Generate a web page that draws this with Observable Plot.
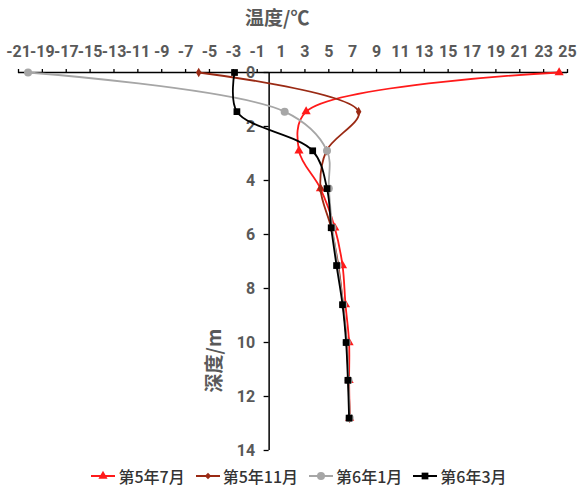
<!DOCTYPE html>
<html><head><meta charset="utf-8">
<script src="https://cdn.jsdelivr.net/npm/d3@7"></script>
<script src="https://cdn.jsdelivr.net/npm/@observablehq/plot@0.6"></script>
<style>
body{margin:0;background:#fff;}
#legend{display:flex;justify-content:center;align-items:center;gap:11px;height:28px;padding-left:20px;box-sizing:border-box;width:578px;
  font-family:"Liberation Sans Narrow","Noto Sans CJK SC",sans-serif;font-size:16px;font-weight:500;color:#333;}
#legend .item{display:flex;align-items:center;gap:3px;white-space:nowrap;}
</style></head><body><div id="chart"></div><div id="legend"></div>
<script>
const seriesNames = ["第5年7月","第5年11月","第6年1月","第6年3月"];
const seriesColors = ["#ff1a1a","#9a2a14","#a6a6a6","#000000"];
const seriesSymbols = ["triangle","diamond","circle","square"];
const depths = [0, 1.45, 2.9, 4.3, 5.75, 7.15, 8.6, 10, 11.4, 12.8];
const temp5y7m  = [24.3, 3.1, 2.5, 4.3, 5.5, 6.15, 6.4, 6.7, 6.7, 6.75];
const temp5y11m = [-5.9, 7.5, 4.8, 4.3, 5.2, 5.8, 6.2, 6.5, 6.65, 6.75];
const temp6y1m  = [-20.2, 1.3, 4.85, 5.0, 5.3, 5.75, 6.2, 6.5, 6.65, 6.75];
const temp6y3m  = [-2.9, -2.7, 3.65, 4.85, 5.2, 5.65, 6.15, 6.45, 6.6, 6.7];
const xTicks = d3.range(-21, 26, 2);
const yTicks = d3.range(0, 15, 2);
const xTitle = "温度/℃";
const yTitle = "深度/m";

const allTemps = [temp5y7m, temp5y11m, temp6y1m, temp6y3m];
const rows = seriesNames.map((s, i) => allTemps[i].map((t, j) => ({s, t, d: depths[j]})));
const symR = [3.4, 2.9, 4, 3.8];

const tickFont = '"Liberation Sans Narrow",Roboto,sans-serif';
const cjkFont = '"Noto Sans CJK SC",sans-serif';
const marks = [
  Plot.ruleY([0], {stroke: "#000", strokeWidth: 1.5}),
  Plot.ruleX([0], {y1: 0, y2: 14, stroke: "#000", strokeWidth: 1.5}),
  Plot.axisX({anchor: "top", ticks: xTicks, tickSize: 4, tickFormat: () => "", label: null, stroke: "#000", strokeWidth: 1.3}),
  Plot.axisX({anchor: "top", ticks: xTicks, tickSize: 0, tickPadding: 16, label: null, fill: "#595959", fontSize: 16, fontWeight: "bold", fontFamily: tickFont, tickFormat: d => String(d)}),
  Plot.ruleY(yTicks, {y: d => d, x1: -0.42, x2: 0, stroke: "#000", strokeWidth: 1.3}),
  Plot.text(yTicks, {x: 0, y: d => d, text: d => String(d), dx: -14, textAnchor: "end", fontSize: 16, fontWeight: "bold", fill: "#595959", fontFamily: tickFont}),
  Plot.text([yTitle], {x: 0, y: 10.67, dx: -54, rotate: -90, text: d => d, fontSize: 19, fontWeight: "bold", fill: "#595959", fontFamily: cjkFont}),
  Plot.text([xTitle], {x: 0.68, y: 0, dy: -54, text: d => d, fontSize: 19, fontWeight: "bold", fill: "#595959", fontFamily: cjkFont})
];
rows.forEach((data, i) => {
  marks.push(Plot.line(data, {x: "t", y: "d", stroke: seriesColors[i], strokeWidth: 1.8, curve: "catmull-rom"}));
  marks.push(Plot.dot(data, {x: "t", y: "d", fill: seriesColors[i], stroke: "none", symbol: seriesSymbols[i], r: symR[i]}));
});

const chart = Plot.plot({
  width: 578, height: 462,
  marginTop: 72, marginBottom: 12, marginLeft: 18, marginRight: 11,
  x: {domain: [-21, 25], label: null},
  y: {domain: [0, 14], reverse: true, axis: null},
  style: {background: "white", overflow: "visible"},
  marks
});
document.getElementById("chart").appendChild(chart);

const legend = document.getElementById("legend");
const symMap = {triangle: d3.symbolTriangle, diamond: d3.symbolDiamond2, circle: d3.symbolCircle, square: d3.symbolSquare};
seriesNames.forEach((name, i) => {
  const item = document.createElement("div");
  item.className = "item";
  const svg = d3.create("svg").attr("width", 24).attr("height", 12);
  svg.append("line").attr("x1", 0).attr("x2", 24).attr("y1", 6).attr("y2", 6).attr("stroke", seriesColors[i]).attr("stroke-width", 2);
  svg.append("path").attr("transform", "translate(12,6)").attr("fill", seriesColors[i])
    .attr("d", d3.symbol(symMap[seriesSymbols[i]], Math.PI * symR[i] * symR[i])());
  item.appendChild(svg.node());
  const span = document.createElement("span");
  span.textContent = name;
  item.appendChild(span);
  legend.appendChild(item);
});
</script></body></html>
